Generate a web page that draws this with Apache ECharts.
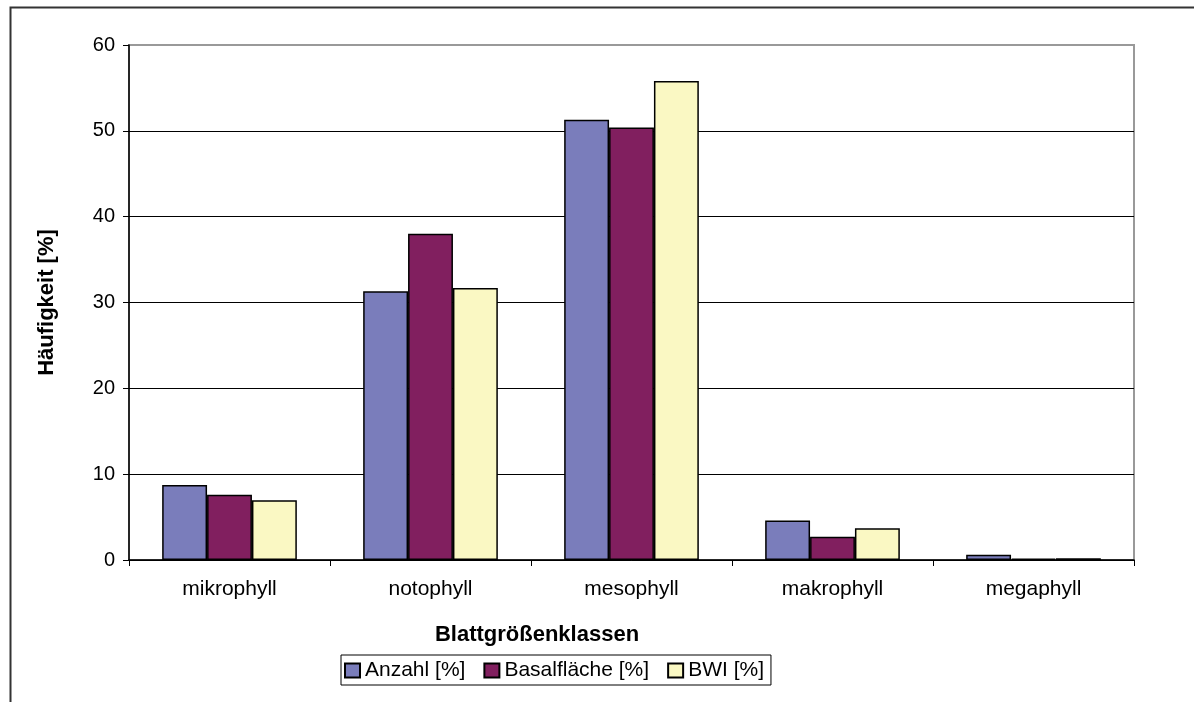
<!DOCTYPE html>
<html>
<head>
<meta charset="utf-8">
<script src="https://cdn.jsdelivr.net/npm/echarts@6/dist/echarts.min.js"></script>
<style>
html,body{margin:0;padding:0;background:#fff;}
#chart{width:1194px;height:702px;}
</style>
</head>
<body>
<div id="chart"></div>
<script>
const categories = ['mikrophyll', 'notophyll', 'mesophyll', 'makrophyll', 'megaphyll'];
const seriesNames = ['Anzahl [%]', 'Basalfläche [%]', 'BWI [%]'];
const anzahl = [8.75, 31.3, 51.3, 4.6, 0.6];
const basalflaeche = [7.6, 38.0, 50.4, 2.7, 0.15];
const bwi = [6.95, 31.7, 55.8, 3.7, 0.2];
const yTicks = [0, 10, 20, 30, 40, 50, 60];
const xTitle = 'Blattgrößenklassen';
const yTitle = 'Häufigkeit [%]';

const colors = ['#7a7dbb', '#811f5f', '#faf8c3'];
const values = [anzahl, basalflaeche, bwi];

const chart = echarts.init(document.getElementById('chart'));
const font = 'Liberation Sans, Arial, sans-serif';
chart.setOption({
  animation: false,
  textStyle: { fontFamily: font },
  grid: { left: 129, right: 60, top: 45, bottom: 142, show: true, borderColor: '#999', borderWidth: 2 },
  xAxis: {
    type: 'category',
    data: categories,
    axisLine: { lineStyle: { color: '#000', width: 1.5 } },
    axisTick: { show: true, length: 6, lineStyle: { color: '#000' } },
    axisLabel: { color: '#000', fontSize: 21, margin: 19, fontFamily: font }
  },
  yAxis: {
    type: 'value',
    min: yTicks[0],
    max: yTicks[yTicks.length - 1],
    interval: 10,
    name: yTitle,
    nameLocation: 'middle',
    nameGap: 71,
    nameRotate: 90,
    nameTextStyle: { color: '#000', fontSize: 22, fontWeight: 'bold', fontFamily: font },
    axisLine: { show: true, lineStyle: { color: '#000', width: 1.5 } },
    axisTick: { show: true, length: 6, lineStyle: { color: '#000' } },
    axisLabel: { color: '#000', fontSize: 20, margin: 14, fontFamily: font },
    splitLine: { show: true, lineStyle: { color: ['#000', '#000', '#000', '#000', '#000', '#000', '#999'], width: 1 } }
  },
  legend: {
    data: seriesNames,
    left: 341,
    top: 655,
    orient: 'horizontal',
    itemWidth: 15,
    itemHeight: 14,
    itemGap: 18,
    padding: [4, 7, 3, 3],
    borderColor: '#000',
    borderWidth: 1,
    borderRadius: 0,
    icon: 'rect',
    textStyle: { color: '#000', fontSize: 21, lineHeight: 23, fontFamily: font, padding: [0, 0, 0, 0] }
  },
  graphic: [
    { type: 'rect', left: 8, top: 5, shape: { width: 1200, height: 710 }, style: { fill: 'none', stroke: '#333', lineWidth: 2 }, z: -1 },
    { type: 'text', x: 537, y: 635, style: { text: xTitle, fontSize: 22, fontWeight: 'bold', fontFamily: font, fill: '#000', align: 'center', verticalAlign: 'middle' } }
  ],
  series: seriesNames.map((n, i) => ({
    name: n,
    type: 'bar',
    data: values[i],
    barGap: '0%',
    barCategoryGap: '33%',
    itemStyle: { color: colors[i], borderColor: '#000', borderWidth: 1.5 }
  }))
});
</script>
</body>
</html>
